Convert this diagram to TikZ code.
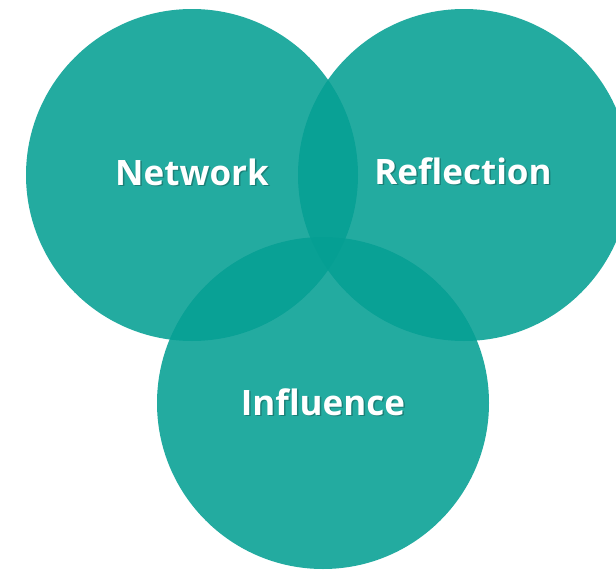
\documentclass[tikz,border=0pt]{standalone}
\usepackage{fontspec}
\setmainfont{Open Sans}[Ligatures=NoCommon]
\begin{document}
\begin{tikzpicture}[x=1pt,y=-1pt,
  venn/.style={circle, minimum size=332pt, inner sep=0pt, fill={rgb,255:red,5;green,159;blue,147}, fill opacity=0.88},
  lbl/.style={text=white, font=\bfseries\fontsize{35}{40}\selectfont, inner sep=0pt},
  shd/.style={text=black, text opacity=0.25, font=\bfseries\fontsize{35}{40}\selectfont, inner sep=0pt}]
\clip (0,0) rectangle (616,570);
\useasboundingbox (0,0) rectangle (616,570);
\node[venn] (net) at (192,175) {};
\node[venn] (ref) at (464,175) {};
\node[venn] (inf) at (323,403) {};
\node[shd] (netS) at (193.5,173.5) {Network};
\node[shd] (refS) at (464.5,172.5) {Reflection};
\node[shd] (infS) at (324.5,403.5) {Influence};
\node[lbl] (netT) at (192,172) {Network};
\node[lbl] (refT) at (463,171) {Reflection};
\node[lbl] (infT) at (323,402) {Influence};
\end{tikzpicture}
\end{document}
